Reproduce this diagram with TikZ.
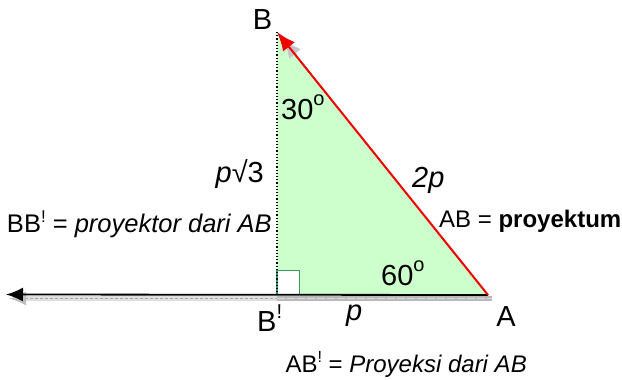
\documentclass[tikz,border=0pt]{standalone}
\usepackage{fontspec}
\setmainfont{Liberation Sans}
\usetikzlibrary{arrows.meta}
\definecolor{trifill}{HTML}{CCFFCC}
\definecolor{sqcol}{HTML}{339966}
\definecolor{redline}{HTML}{EE0000}
\newcommand\mysup[3]{\raisebox{#1}{\fontsize{#2}{#2}\selectfont #3}}
\tikzset{
  big/.style={inner sep=0pt, font=\fontsize{29}{31}\selectfont},
  small/.style={inner sep=0pt, font=\fontsize{24}{26}\selectfont},
  smallb/.style={inner sep=0pt, font=\fontsize{25.5}{27}\selectfont},
}
\begin{document}
\begin{tikzpicture}[x=1pt,y=-1pt]
\useasboundingbox (0,0) rectangle (622,380);
\coordinate (B) at (277,32);
\coordinate (Bp) at (277,295);
\coordinate (A) at (488,295);
\coordinate (L) at (6,294.5);
% triangle
\fill[trifill] (B) -- (Bp) -- (A) -- cycle;
% right angle square
\draw[sqcol, line width=1.4pt, fill=white] (277,270.5) rectangle (299.5,294.5);
% dotted height
\draw[black, line width=1.2pt, dotted] (B) -- (Bp);
% grey shadow strip
\fill[gray!25] (23,296) rectangle (277,300.5);
\draw[gray!70, line width=0.5pt, dash pattern=on 3pt off 2pt] (25,298.3) -- (277,298.3);
\fill[gray!55] (277,296) rectangle (492,300.5);
\draw[gray!30, line width=0.6pt, dash pattern=on 8pt off 2pt] (277,298.3) -- (492,298.3);
% shadow arrow head (left)
\draw[gray!50, line width=1.8pt, -{Latex[length=17pt,width=14pt]}] ([shift={(3,4)}]23,294.5) -- ([shift={(3,4)}]L);
% black base line with arrow
\draw[black, line width=1.8pt, -{Latex[length=17pt,width=14pt]}] (A) -- (L);
% shadow arrow head at B
\draw[gray!45, line width=2pt, -{Latex[length=19pt,width=15pt]}] ([shift={(6,7)}]290,48) -- ([shift={(6,7)}]B);
% red hypotenuse
\draw[redline, line width=2pt, -{Latex[length=19pt,width=15pt]}] (A) -- (B);
% labels
\node[big, anchor=base] (lB) at (262.5,30) {B};
\node[big, anchor=base west] (l30) at (281,119.5) {30\mysup{14pt}{20}{o}};
\node[big, anchor=base east] (lp3) at (264,182) {\textit{p}√3};
\node[big, anchor=base west] (l2p) at (412,187) {\textit{2p}};
\node[smallb, anchor=base east] (lBB) at (272,232) {BB\mysup{10pt}{17}{!} = \textit{proyektor dari AB}};
\node[small, anchor=base west] (lAB) at (439,227) {AB = \textbf{proyektum}};
\node[big, anchor=base west] (l60) at (381,285) {60\mysup{14pt}{20}{o}};
\node[big, anchor=base west] (lBp) at (257,331.5) {B\mysup{13pt}{20}{!}};
\node[big, anchor=base west] (lp) at (346,320) {\textit{p}};
\node[big, anchor=base] (lA) at (506,326.5) {A};
\node[small, anchor=base east] (lproj) at (527,372) {AB\mysup{10pt}{16}{!} = \textit{Proyeksi dari AB}};
\end{tikzpicture}
\end{document}
